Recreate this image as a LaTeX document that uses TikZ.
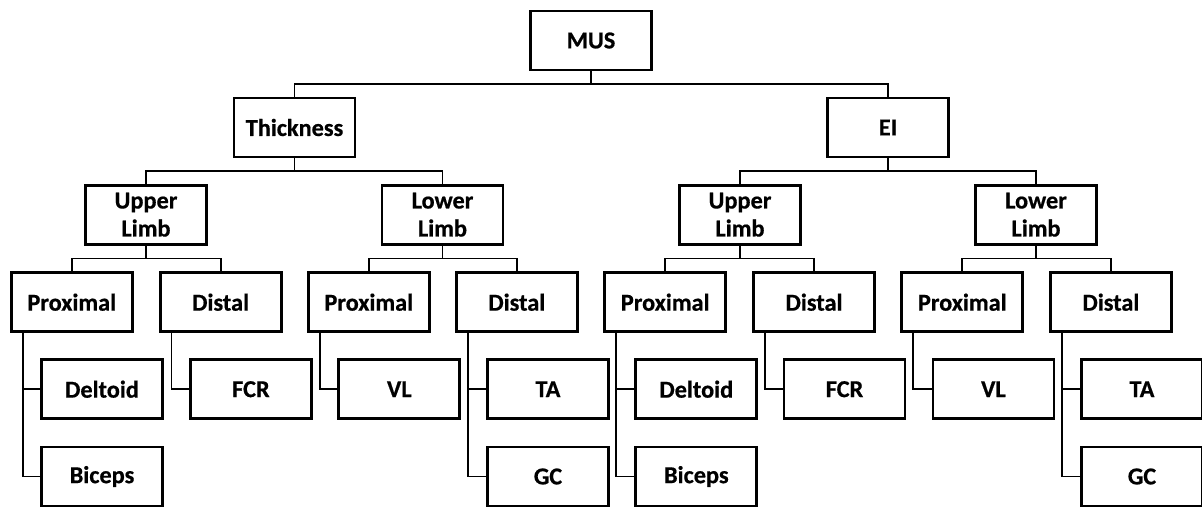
\documentclass[tikz,border=0pt]{standalone}
\usepackage{fontspec}
\setmainfont{Carlito}
\newfontfamily\boxfont{Carlito}[UprightFont=*-Bold, FakeBold=0.6]
\usetikzlibrary{calc}
\tikzset{
  box/.style={draw=black, line width=2.8pt, fill=white, rectangle,
    minimum width=121pt, minimum height=59pt, inner sep=0pt, align=center,
    font=\boxfont\fontsize{24.3}{28}\selectfont},
  conn/.style={draw=black, line width=1.8pt}
}
\newcommand{\treelink}[2]{\draw[conn] (#1.south) |- ($(#1.south)!.5!(#2.north)$) -| (#2.north);}
\newcommand{\sidelink}[2]{\draw[conn] ([xshift=12.8pt]#1.south west) |- (#2.west);}
\begin{document}
\begin{tikzpicture}[x=1pt,y=-1pt]
\useasboundingbox (0,0) rectangle (1202,509);
% level 1
\node[box] (mus) at (591,40.5) {MUS};
% level 2
\node[box] (thick) at (294.5,127.5) {Thickness};
\node[box] (ei) at (888,127.5) {EI};
% level 3
\node[box] (ulA) at (146,214.7) {Upper\\Limb};
\node[box] (llA) at (442.5,214.7) {Lower\\Limb};
\node[box] (ulB) at (740,214.7) {Upper\\Limb};
\node[box] (llB) at (1036,214.7) {Lower\\Limb};
% level 4
\node[box] (pA) at (71.8,302.2) {Proximal};
\node[box] (dA) at (220.6,302.2) {Distal};
\node[box] (pB) at (368.8,302.2) {Proximal};
\node[box] (dB) at (516.8,302.2) {Distal};
\node[box] (pC) at (665.2,302.2) {Proximal};
\node[box] (dC) at (814,302.2) {Distal};
\node[box] (pD) at (962.3,302.2) {Proximal};
\node[box] (dD) at (1110.9,302.2) {Distal};
% level 5
\node[box] (delA) at (102,389.2) {Deltoid};
\node[box] (fcrA) at (250.9,389.2) {FCR};
\node[box] (vlA) at (399.3,389.2) {VL};
\node[box] (taA) at (548,389.2) {TA};
\node[box] (delB) at (696.3,389.2) {Deltoid};
\node[box] (fcrB) at (844.5,389.2) {FCR};
\node[box] (vlB) at (993.4,389.2) {VL};
\node[box] (taB) at (1142,389.2) {TA};
% level 6
\node[box] (bicA) at (102,476.5) {Biceps};
\node[box] (gcA) at (548,476.5) {GC};
\node[box] (bicB) at (696.3,476.5) {Biceps};
\node[box] (gcB) at (1142,476.5) {GC};
% tree connectors
\treelink{mus}{thick}
\treelink{mus}{ei}
\treelink{thick}{ulA}
\treelink{thick}{llA}
\treelink{ei}{ulB}
\treelink{ei}{llB}
\treelink{ulA}{pA}
\treelink{ulA}{dA}
\treelink{llA}{pB}
\treelink{llA}{dB}
\treelink{ulB}{pC}
\treelink{ulB}{dC}
\treelink{llB}{pD}
\treelink{llB}{dD}
% side connectors
\sidelink{pA}{delA}
\sidelink{pA}{bicA}
\sidelink{dA}{fcrA}
\sidelink{pB}{vlA}
\sidelink{dB}{taA}
\sidelink{dB}{gcA}
\sidelink{pC}{delB}
\sidelink{pC}{bicB}
\sidelink{dC}{fcrB}
\sidelink{pD}{vlB}
\sidelink{dD}{taB}
\sidelink{dD}{gcB}
\end{tikzpicture}
\end{document}
